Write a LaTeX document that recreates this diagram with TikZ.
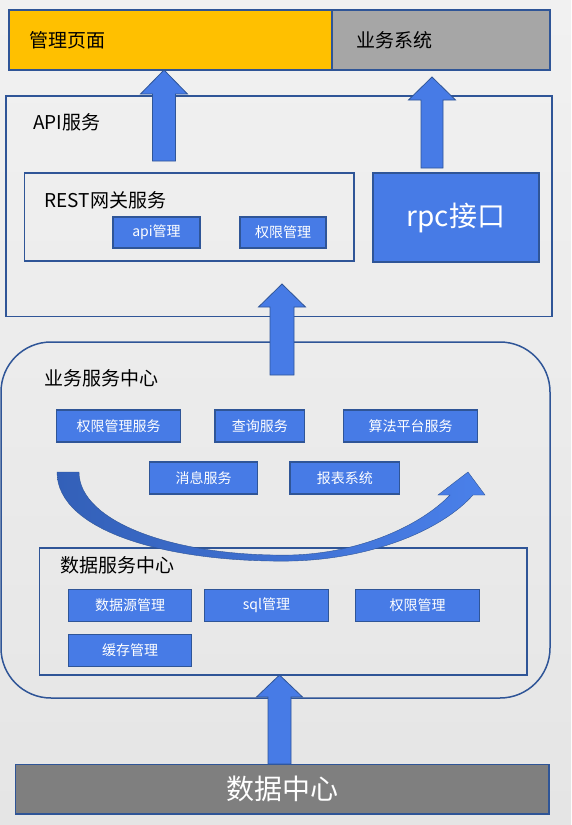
\documentclass[tikz,border=0pt]{standalone}
\usepackage{fontspec}
\setmainfont{Noto Sans CJK SC}
\definecolor{bd}{HTML}{2F5597}
\definecolor{bf}{HTML}{477BE6}
\definecolor{ylw}{HTML}{FFC000}
\definecolor{gry}{HTML}{A6A6A6}
\definecolor{dgry}{HTML}{7F7F7F}
\definecolor{bgtop}{HTML}{F1F1F1}
\definecolor{bgbot}{HTML}{E5E5E5}
\definecolor{cdark}{HTML}{3360B8}
\definecolor{clight}{HTML}{4A80EA}
\newcommand\upblock[6]{%
  \filldraw[blk] (#1-#5,#4) -- (#1-#5,#3) -- (#1-#6,#3) -- (#1,#2) -- (#1+#6,#3) -- (#1+#5,#3) -- (#1+#5,#4) -- cycle;}
\begin{document}
\begin{tikzpicture}[x=1pt,y=-1pt,
  frame/.style={draw=bd, line width=1.6pt, inner sep=0pt, rectangle},
  sbox/.style={draw=bd, line width=1.6pt, fill=bf, inner sep=0pt, text=white,
     font=\fontsize{14}{16}\selectfont, minimum height=32},
  title/.style={anchor=west, inner sep=0pt, font=\fontsize{19}{22}\selectfont},
  blk/.style={fill=bf, draw=bd, line width=0.8pt}]
\useasboundingbox (0,0) rectangle (571,825);
\shade[top color=bgtop, bottom color=bgbot] (0,0) rectangle (571,825);

% top bar
\node[frame, fill=ylw, minimum width=323, minimum height=60] (mgmt) at (170.5,40) {};
\node[frame, fill=gry, minimum width=218, minimum height=60] (biz) at (441,40) {};
\node[title] (tmgmt) at (29,40) {管理页面};
\node[title] (tbiz) at (356,40) {业务系统};

% API service
\node[frame, minimum width=546, minimum height=220.5] (api) at (279,206.25) {};
\node[title] (tapi) at (33,122) {API服务};
\node[frame, minimum width=329.5, minimum height=88] (rest) at (189.25,217) {};
\node[title] (trest) at (44.5,200) {REST网关服务};
\node[sbox, minimum width=87, minimum height=31] (apim) at (156.5,232.5) {api管理};
\node[sbox, minimum width=86, minimum height=31] (perm1) at (283,232.5) {权限管理};
\node[sbox, minimum width=166, minimum height=89, font=\fontsize{28}{32}\selectfont] (rpc) at (456,217.5) {rpc接口};

% business service center
\draw[draw=bd, line width=1.5pt, rounded corners=50] (1,342) rectangle (550,698);
\node[title] (tbsc) at (44,378) {业务服务中心};
\node[sbox, minimum width=124] (s1) at (118.5,426) {权限管理服务};
\node[sbox, minimum width=89.5] (s2) at (259.75,426) {查询服务};
\node[sbox, minimum width=134] (s3) at (410.5,426) {算法平台服务};
\node[sbox, minimum width=108] (s4) at (203.5,478) {消息服务};
\node[sbox, minimum width=109.5] (s5) at (344.75,478) {报表系统};

% data service center
\node[frame, minimum width=487.5, minimum height=127] (dsc) at (283.25,611.5) {};
\node[title] (tdsc) at (60,565) {数据服务中心};
\node[sbox, minimum width=123] (d1) at (130,605.5) {数据源管理};
\node[sbox, minimum width=124] (d2) at (266.5,605.5) {sql管理};
\node[sbox, minimum width=124] (d3) at (417.5,605.5) {权限管理};
\node[sbox, minimum width=123] (d4) at (130,650.5) {缓存管理};

% data center
\node[frame, fill=dgry, minimum width=533.5, minimum height=49.5, text=white,
  font=\fontsize{28}{32}\selectfont] (dc) at (282.25,789.25) {数据中心};

% block arrows
\upblock{164}{70}{94}{161}{11.5}{23.5}
\upblock{432}{77}{100}{168}{11}{23.5}
\upblock{282}{284}{307}{375}{12}{23.5}
\upblock{279.5}{675}{697}{764}{11.5}{23}

% curved arrow
\shade[left color=cdark, right color=clight]
  (57,472) .. controls (57,532) and (170,563) .. (292,561)
  .. controls (372,559) and (442,530) .. (473,495)
  -- (485,495) -- (468,472) -- (438,495) -- (450,495)
  .. controls (420,526) and (360,553) .. (292,555)
  .. controls (175,557) and (79,522) .. (79,472) -- cycle;
\draw[bd, line width=0.4pt]
  (57,472) .. controls (57,532) and (170,563) .. (292,561)
  .. controls (372,559) and (442,530) .. (473,495)
  -- (485,495) -- (468,472) -- (438,495) -- (450,495)
  .. controls (420,526) and (360,553) .. (292,555)
  .. controls (175,557) and (79,522) .. (79,472) -- cycle;
\end{tikzpicture}
\end{document}
